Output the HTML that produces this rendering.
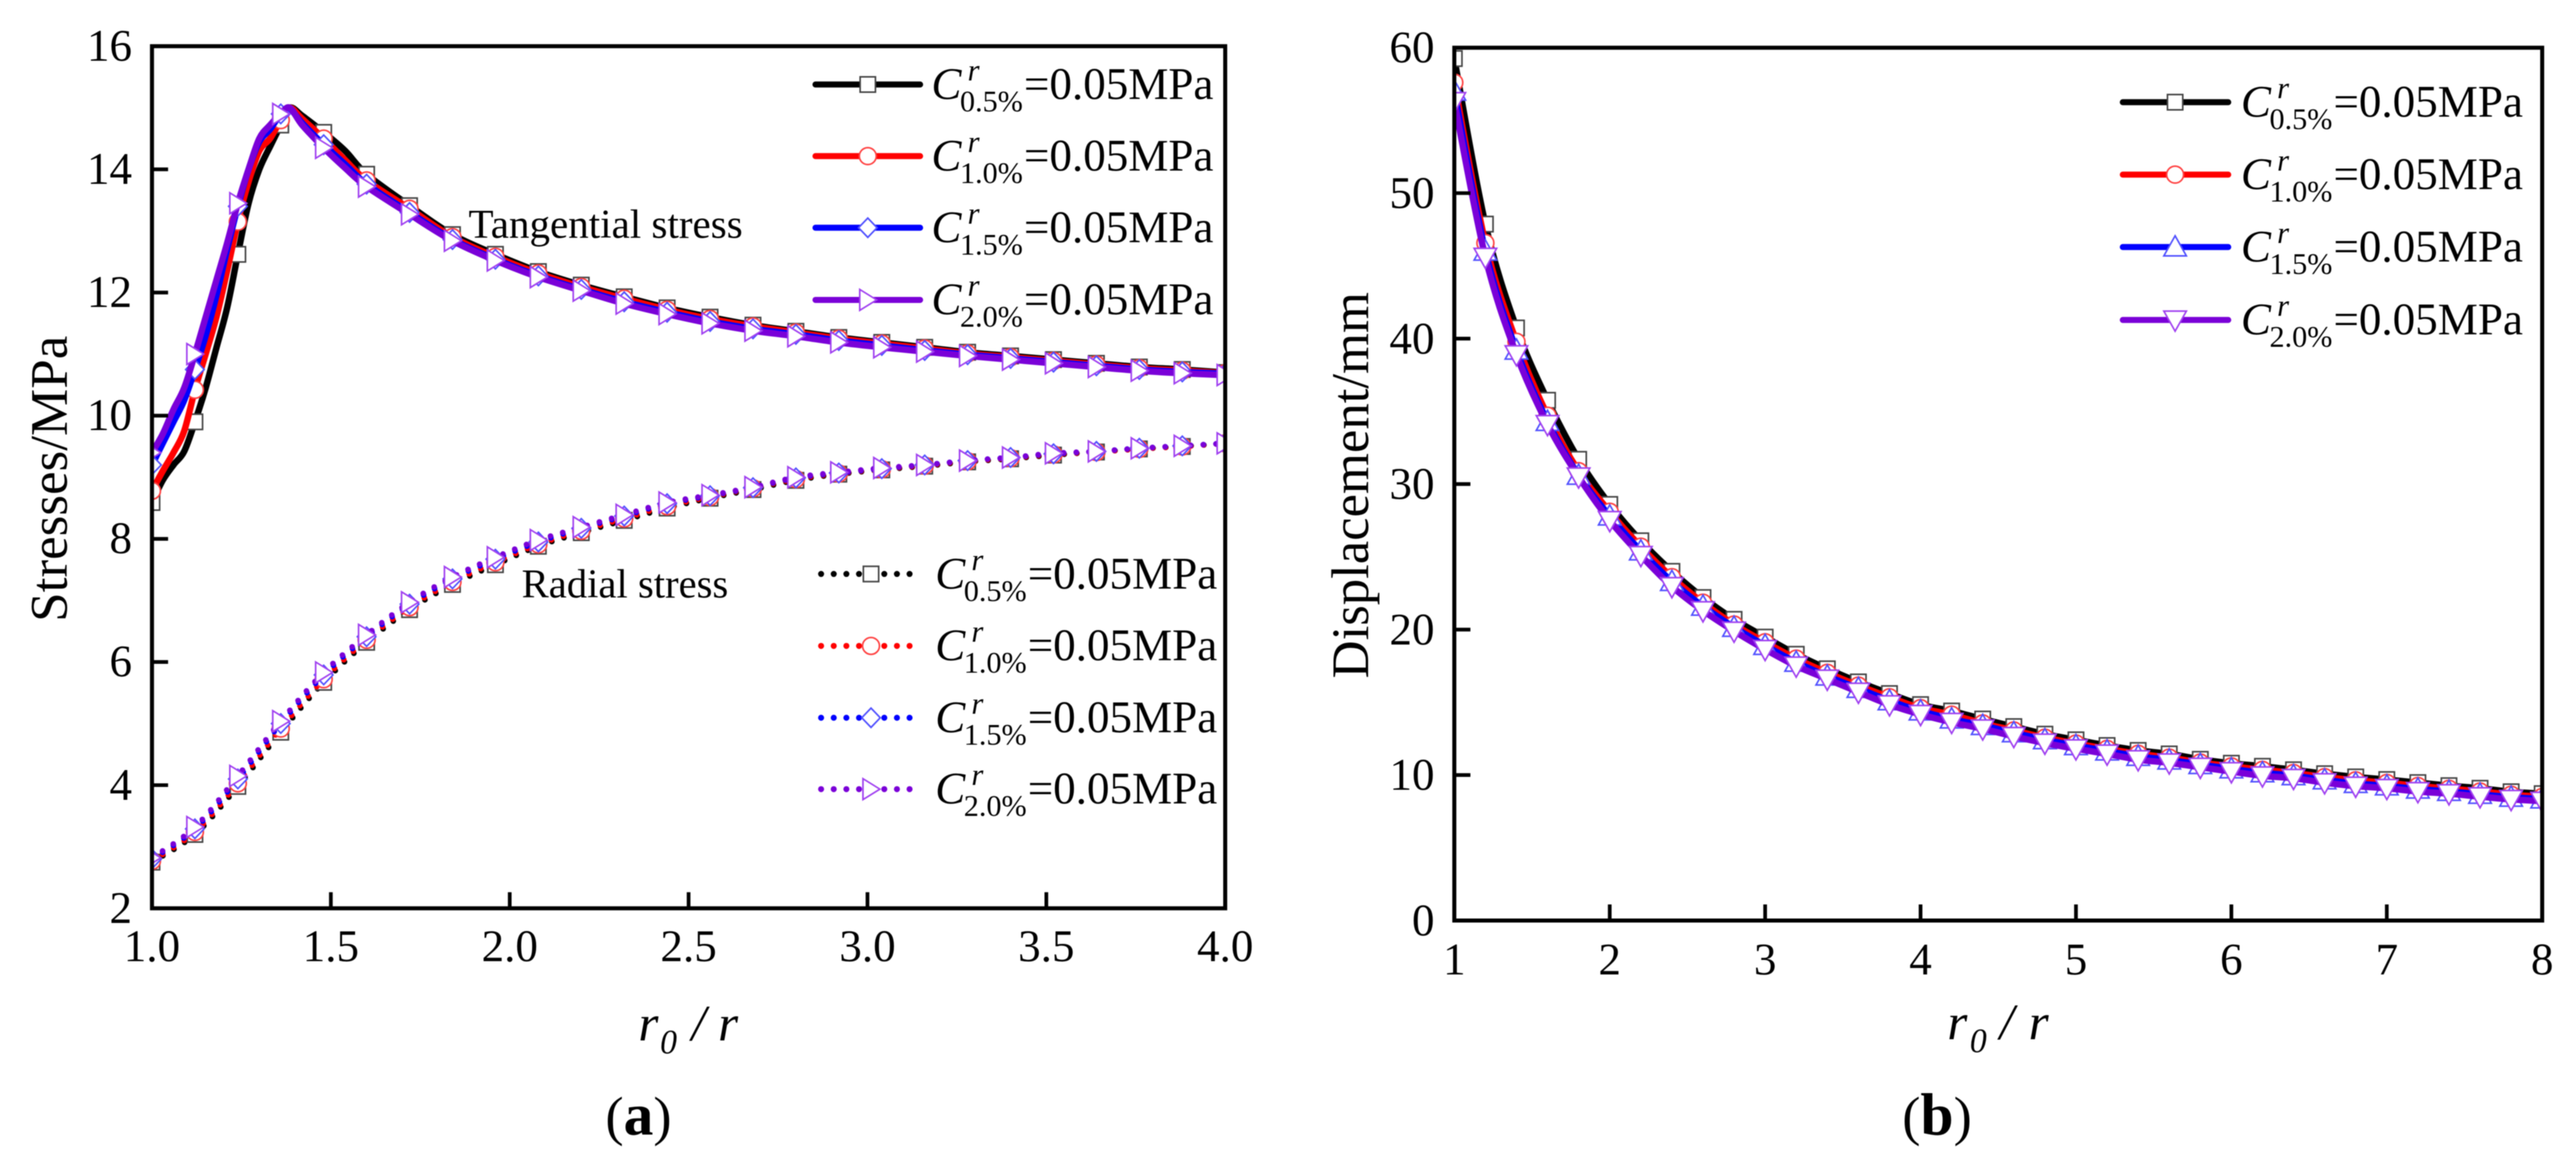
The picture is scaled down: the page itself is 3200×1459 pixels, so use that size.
<!DOCTYPE html>
<html lang="en">
<head>
<meta charset="utf-8">
<title>Stresses and displacement versus r0/r</title>
<style>
html,body{margin:0;padding:0;background:#fff;}
svg{display:block;font-family:"Liberation Serif",serif;filter:blur(0.6px);}
</style>
</head>
<body>
<svg id="figure" xmlns="http://www.w3.org/2000/svg" width="3200" height="1459" viewBox="0 0 3200 1459">
<defs>
<clipPath id="clipA"><rect x="188.8" y="57.4" width="1333.2" height="1071.4"/></clipPath>
<clipPath id="clipB"><rect x="1806.6" y="59.3" width="1351.4" height="1084.7"/></clipPath>
</defs>
<rect x="0" y="0" width="3200" height="1459" fill="#fff"/>
</svg>
<script>
// ---------- chart (a) data ----------
const tangentialX = [1,1.03,1.06,1.09,1.12,1.15,1.18,1.21,1.24,1.27,1.30,1.33,1.36,1.385,1.42,1.48,1.54,1.60,1.72,1.84,1.96,2.08,2.20,2.32,2.44,2.56,2.68,2.80,2.92,3.04,3.16,3.28,3.40,3.52,3.64,3.76,3.88,4.00];
const tangentialBlack = [8.59,8.95,9.2,9.42,9.9,10.45,11.1,11.75,12.62,13.45,14.0,14.37,14.72,15.0,14.87,14.6,14.3,13.92,13.41,12.94,12.62,12.34,12.12,11.93,11.75,11.60,11.47,11.37,11.27,11.19,11.11,11.03,10.97,10.91,10.85,10.79,10.75,10.70];
const tangentialRed = [8.78,9.1,9.4,9.75,10.42,11.0,11.6,12.35,13.15,13.8,14.3,14.5,14.8,15.0,14.82,14.5,14.15,13.82,13.36,12.90,12.58,12.31,12.09,11.90,11.72,11.57,11.45,11.35,11.25,11.17,11.09,11.01,10.95,10.89,10.83,10.77,10.73,10.69];
const tangentialBlue = [9.2,9.55,9.9,10.25,10.75,11.3,11.95,12.7,13.4,14.0,14.45,14.65,14.9,14.98,14.75,14.4,14.08,13.76,13.30,12.86,12.54,12.27,12.05,11.85,11.68,11.53,11.41,11.32,11.22,11.14,11.06,10.99,10.93,10.87,10.81,10.75,10.71,10.68];
const tangentialPurple = [9.40,9.7,10.1,10.45,11.0,11.6,12.2,12.8,13.45,14.0,14.5,14.72,14.9,15.0,14.72,14.35,14.02,13.72,13.27,12.84,12.52,12.25,12.03,11.82,11.65,11.50,11.38,11.29,11.19,11.11,11.04,10.97,10.91,10.85,10.79,10.73,10.69,10.66];
const radialX = [1,1.12,1.24,1.36,1.48,1.60,1.72,1.84,1.96,2.08,2.20,2.32,2.44,2.56,2.68,2.80,2.92,3.04,3.16,3.28,3.40,3.52,3.64,3.76,3.88,4.00];
const radialBlack = [2.75,3.2,3.98,4.86,5.67,6.32,6.85,7.26,7.58,7.88,8.1,8.3,8.5,8.66,8.80,8.95,9.05,9.12,9.18,9.25,9.30,9.36,9.41,9.46,9.50,9.55];
const radialRed = [2.77,3.24,4.03,4.92,5.72,6.36,6.89,7.3,7.62,7.91,8.13,8.33,8.53,8.68,8.82,8.97,9.06,9.13,9.19,9.26,9.31,9.37,9.41,9.46,9.5,9.55];
const radialBlue = [2.8,3.29,4.1,5.0,5.79,6.41,6.94,7.35,7.67,7.95,8.17,8.37,8.57,8.70,8.83,8.99,9.07,9.14,9.2,9.27,9.32,9.38,9.42,9.47,9.51,9.55];
const radialPurple = [2.82,3.32,4.15,5.04,5.83,6.44,6.97,7.38,7.70,7.98,8.19,8.39,8.59,8.71,8.84,9.00,9.08,9.15,9.2,9.27,9.32,9.39,9.42,9.47,9.51,9.55];
const stressXTicks = ["1.0","1.5","2.0","2.5","3.0","3.5","4.0"];
const stressYTicks = ["2","4","6","8","10","12","14","16"];
// ---------- chart (b) data ----------
const dispX = [1,1.2,1.4,1.6,1.8,2,2.2,2.4,2.6,2.8,3,3.2,3.4,3.6,3.8,4,4.2,4.4,4.6,4.8,5,5.2,5.4,5.6,5.8,6,6.2,6.4,6.6,6.8,7,7.2,7.4,7.6,7.8,8];
const dispBlack = [59.25,47.87,40.73,35.76,31.7,28.6,26.1,24.0,22.2,20.7,19.48,18.3,17.3,16.4,15.6,14.84,14.40,13.85,13.33,12.81,12.42,12.03,11.69,11.45,11.08,10.81,10.6,10.36,10.09,9.87,9.69,9.48,9.27,9.09,8.85,8.72];
const dispRed = [57.6,46.57,39.78,34.7,30.89,28.1,25.7,23.6,21.85,20.35,19.13,18.0,17.03,16.15,15.35,14.6,14.15,13.55,13.07,12.57,12.17,11.8,11.46,11.2,10.86,10.6,10.36,10.14,9.86,9.64,9.46,9.25,9.06,8.87,8.65,8.5];
const dispBlue = [57.0,46.0,39.2,34.3,30.6,27.8,25.4,23.3,21.6,20.15,18.9,17.75,16.8,15.95,15.1,14.4,13.85,13.4,12.9,12.42,12.02,11.65,11.28,11.03,10.72,10.42,10.15,9.95,9.66,9.42,9.25,9.03,8.87,8.67,8.47,8.35];
const dispPurple = [56.3,45.6,38.9,34.1,30.5,27.5,25.1,22.96,21.3,19.9,18.64,17.5,16.6,15.7,14.84,14.17,13.63,13.18,12.66,12.2,11.81,11.45,11.06,10.84,10.54,10.24,9.95,9.78,9.48,9.24,9.09,8.87,8.72,8.52,8.33,8.21];
const dispXTicks = ["1","2","3","4","5","6","7","8"];
const dispYTicks = ["0","10","20","30","40","50","60"];
// ---------- legend text ----------
const legendSubscripts = ["0.5%","1.0%","1.5%","2.0%"];
const legendValue = "=0.05MPa";

const svg = document.getElementById('figure');
const NS = 'http://www.w3.org/2000/svg';
function mk(tag, attrs, parent, text){
  const n = document.createElementNS(NS, tag);
  for (const k in attrs) n.setAttribute(k, attrs[k]);
  if (text !== undefined) n.textContent = text;
  (parent || svg).appendChild(n);
  return n;
}
const xA = v => 188.8 + (v - 1) * 444.4;
const yA = v => 57.4 + (16 - v) * 76.53;
const xB = v => 1806.6 + (v - 1) * 193.06;
const yB = v => 1144 - v * 18.08;

const COLORS = ['#000000', '#ff0000', '#0000ff', '#7a00d8'];
const MARKCOL = ['#444444', '#ff4040', '#5050ff', '#a040f0'];
const SERIES = ['c-0-5', 'c-1-0', 'c-1-5', 'c-2-0'];

function valueAt(xs, ys, x){
  for (let i = 0; i < xs.length - 1; i++) {
    if (x >= xs[i] - 1e-9 && x <= xs[i + 1] + 1e-9) {
      return ys[i] + (ys[i + 1] - ys[i]) * (x - xs[i]) / (xs[i + 1] - xs[i]);
    }
  }
  return ys[ys.length - 1];
}
function smoothPath(xs, ys, fx, fy){
  const p = xs.map((x, i) => [fx(x), fy(ys[i])]);
  let d = 'M' + p[0][0].toFixed(1) + ' ' + p[0][1].toFixed(1);
  for (let i = 0; i < p.length - 1; i++) {
    const a = p[Math.max(i - 1, 0)], b = p[i], c = p[i + 1], e = p[Math.min(i + 2, p.length - 1)];
    const c1 = [b[0] + (c[0] - a[0]) / 6, b[1] + (c[1] - a[1]) / 6];
    const c2 = [c[0] - (e[0] - b[0]) / 6, c[1] - (e[1] - b[1]) / 6];
    d += 'C' + c1[0].toFixed(1) + ' ' + c1[1].toFixed(1) + ' ' + c2[0].toFixed(1) + ' ' + c2[1].toFixed(1) + ' ' + c[0].toFixed(1) + ' ' + c[1].toFixed(1);
  }
  return d;
}
function drawMarker(kind, cx, cy, color, parent){
  const base = {fill: '#fff', stroke: color, 'stroke-width': 2};
  let shape;
  if (kind === 'square') shape = mk('rect', Object.assign({x: cx - 9.5, y: cy - 9.5, width: 19, height: 19}, base), parent);
  else if (kind === 'circle') shape = mk('circle', Object.assign({cx: cx, cy: cy, r: 10.5}, base), parent);
  else {
    const pts = {
      diamond: [[0,-12],[11.5,0],[0,12],[-11.5,0]],
      right: [[-10,-13],[11,0],[-10,13]],
      up: [[0,-14],[14,11],[-14,11]],
      down: [[-14,-11],[14,-11],[0,14]]
    }[kind];
    shape = mk('polygon', Object.assign({points: pts.map(q => (cx + q[0]).toFixed(1) + ',' + (cy + q[1]).toFixed(1)).join(' ')}, base), parent);
  }
  return shape;
}
function drawSeries(group, name, xs, ys, markerXs, fx, fy, idx, kind, dotted){
  const g = mk('g', {}, group);
  
  
  const attrs = {d: smoothPath(xs, ys, fx, fy), fill: 'none', stroke: COLORS[idx], 'stroke-linejoin': 'round', 'stroke-linecap': 'round', 'stroke-width': dotted ? 7 : 8};
  if (dotted) attrs['stroke-dasharray'] = '0 15.8';
  const line = mk('path', attrs, g);
  
  
  markerXs.forEach(mx => {
    const m = drawMarker(kind, fx(mx), fy(valueAt(xs, ys, mx)), MARKCOL[idx], g);
    
    
  });
}
function drawAxes(prefix, left, top, right, bottom, xLabels, yLabels, fx, fy, yLabelRight, xBase, yOff){
  const box = mk('rect', {x: left, y: top, width: right - left, height: bottom - top, fill: 'none', stroke: '#000', 'stroke-width': 5});
  
  
  xLabels.forEach(s => {
    const v = parseFloat(s), px = fx(v);
    if (px > left + 1 && px < right - 1) {
      const t = mk('line', {x1: px, x2: px, y1: bottom, y2: bottom - 20, stroke: '#000', 'stroke-width': 4.6});
      
      
    }
    const l = mk('text', {x: px, y: xBase, 'font-size': 56, 'text-anchor': 'middle', fill: '#000'}, svg, s);
    
    
  });
  yLabels.forEach(s => {
    const v = parseFloat(s), py = fy(v);
    if (py > top + 1 && py < bottom - 1) {
      const t = mk('line', {x1: left, x2: left + 20, y1: py, y2: py, stroke: '#000', 'stroke-width': 4.6});
      
      
    }
    const l = mk('text', {x: yLabelRight, y: py + yOff, 'font-size': 56, 'text-anchor': 'end', fill: '#000'}, svg, s);
    
    
  });
}
function drawLegendEntry(prefix, idx, x1, x2, mx, lineY, textX, kind, dotted){
  const g = mk('g', {});
  
  
  const attrs = {x1: x1, x2: x2, y1: lineY, y2: lineY, stroke: COLORS[idx], 'stroke-linecap': 'round', 'stroke-width': 7.5};
  if (dotted) attrs['stroke-dasharray'] = '0 15.7';
  const ln = mk('line', attrs, g);
  
  
  const m = drawMarker(kind, mx, lineY, MARKCOL[idx], g);
  
  
  const c = mk('text', {x: textX, y: lineY + 18, 'font-size': 56, 'font-style': 'italic'}, g, 'C');
  
  
  const r = mk('text', {x: textX + 45, y: lineY - 5, 'font-size': 38, 'font-style': 'italic'}, g, 'r');
  
  
  const sub = mk('text', {x: textX + 35.5, y: lineY + 33.5, 'font-size': 37.5}, g, legendSubscripts[idx]);
  
  
  const val = mk('text', {x: textX + 115, y: lineY + 18, 'font-size': 56}, g, legendValue);
  
  
}
function drawXTitle(prefix, x0, x1, x2, x3, base){
  const g = mk('g', {});
  
  
  mk('text', {x: x0, y: base, 'font-size': 64, 'font-style': 'italic'}, g, 'r');
  mk('text', {x: x1, y: base + 16, 'font-size': 42, 'font-style': 'italic'}, g, '0');
  mk('text', {x: x2, y: base, 'font-size': 64, 'font-style': 'italic'}, g, '/');
  mk('text', {x: x3, y: base, 'font-size': 64, 'font-style': 'italic'}, g, 'r');
}

// ----- chart (a) -----
const plotA = mk('g', {'clip-path': 'url(#clipA)'});


const tangentialData = [tangentialBlack, tangentialRed, tangentialBlue, tangentialPurple];
const radialData = [radialBlack, radialRed, radialBlue, radialPurple];
const kindsA = ['square', 'circle', 'diamond', 'right'];
radialData.forEach((ys, i) => drawSeries(plotA, 'radial-stress-' + SERIES[i], radialX, ys, radialX, xA, yA, i, kindsA[i], true));
tangentialData.forEach((ys, i) => drawSeries(plotA, 'tangential-stress-' + SERIES[i], tangentialX, ys, radialX, xA, yA, i, kindsA[i], false));
drawAxes('stress', 188.8, 57.4, 1522, 1128.8, stressXTicks, stressYTicks, xA, yA, 164, 1194.5, 18);
const yTitleA = mk('text', {transform: 'translate(83,595) rotate(-90)', 'font-size': 66, 'text-anchor': 'middle'}, svg, 'Stresses/MPa');


drawXTitle('stress', 793, 820, 859, 892, 1293);
const noteT = mk('text', {x: 582, y: 295.4, 'font-size': 51}, svg, 'Tangential stress');


const noteR = mk('text', {x: 648, y: 742.5, 'font-size': 50.5}, svg, 'Radial stress');


[105, 194, 283, 372.7].forEach((ly, i) => drawLegendEntry('tangential', i, 1013, 1143, 1078, ly, 1157, kindsA[i], false));
[713.3, 802.7, 892, 980.7].forEach((ly, i) => drawLegendEntry('radial', i, 1020, 1142, 1082, ly, 1161.7, kindsA[i], true));
const capA = mk('text', {x: 752, y: 1410, 'font-size': 68}, svg);


mk('tspan', {}, capA, '(');
mk('tspan', {'font-weight': 'bold', 'font-size': 74}, capA, 'a');
mk('tspan', {}, capA, ')');

// ----- chart (b) -----
const plotB = mk('g', {'clip-path': 'url(#clipB)'});


const dispData = [dispBlack, dispRed, dispBlue, dispPurple];
const kindsB = ['square', 'circle', 'up', 'down'];
dispData.forEach((ys, i) => drawSeries(plotB, 'displacement-' + SERIES[i], dispX, ys, dispX, xB, yB, i, kindsB[i], false));
drawAxes('displacement', 1806.6, 59.3, 3158, 1144, dispXTicks, dispYTicks, xB, yB, 1782, 1211, 18.5);
const yTitleB = mk('text', {transform: 'translate(1699.5,603) rotate(-90)', 'font-size': 65.5, 'text-anchor': 'middle'}, svg, 'Displacement/mm');


drawXTitle('displacement', 2419, 2447, 2484, 2520, 1291.5);
[127, 217, 307, 397.6].forEach((ly, i) => drawLegendEntry('displacement', i, 2637, 2768, 2702, ly, 2783.7, kindsB[i], false));
const capB = mk('text', {x: 2363, y: 1410, 'font-size': 68}, svg);


mk('tspan', {}, capB, '(');
mk('tspan', {'font-weight': 'bold', 'font-size': 74}, capB, 'b');
mk('tspan', {}, capB, ')');
</script>
</body>
</html>
